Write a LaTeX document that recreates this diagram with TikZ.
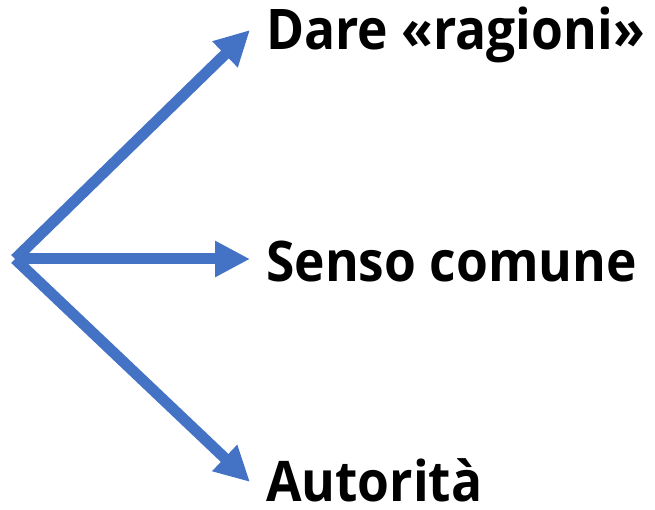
\documentclass[tikz,border=0pt]{standalone}
\usepackage{fontspec}
\setmainfont{Open Sans}[BoldFont={* Bold},FakeStretch=0.92]
\usetikzlibrary{arrows.meta}
\definecolor{officeblue}{HTML}{4472C4}
\begin{document}
\begin{tikzpicture}[x=1pt,y=-1pt,
  conn/.style={draw=officeblue,line width=11pt,-{Triangle[length=35pt,width=34pt]}},
  lbl/.style={anchor=base west,inner sep=0pt,text depth=0pt,font=\fontsize{56}{60}\selectfont\bfseries,text=black}]
\useasboundingbox (0,0) rectangle (655,510);
\coordinate (o) at (15,259);
\coordinate (t1) at (250,30);
\coordinate (t2) at (250,259);
\coordinate (t3) at (250,482);
\node[lbl] (l1) at (266,50) {Dare «ragioni»};
\node[lbl] (l2) at (266,282) {Senso comune};
\node[lbl] (l3) at (266,501) {Autorità};
\draw[conn] (o) -- (t1);
\draw[conn] (o) -- (t2);
\draw[conn] (o) -- (t3);
\end{tikzpicture}
\end{document}
